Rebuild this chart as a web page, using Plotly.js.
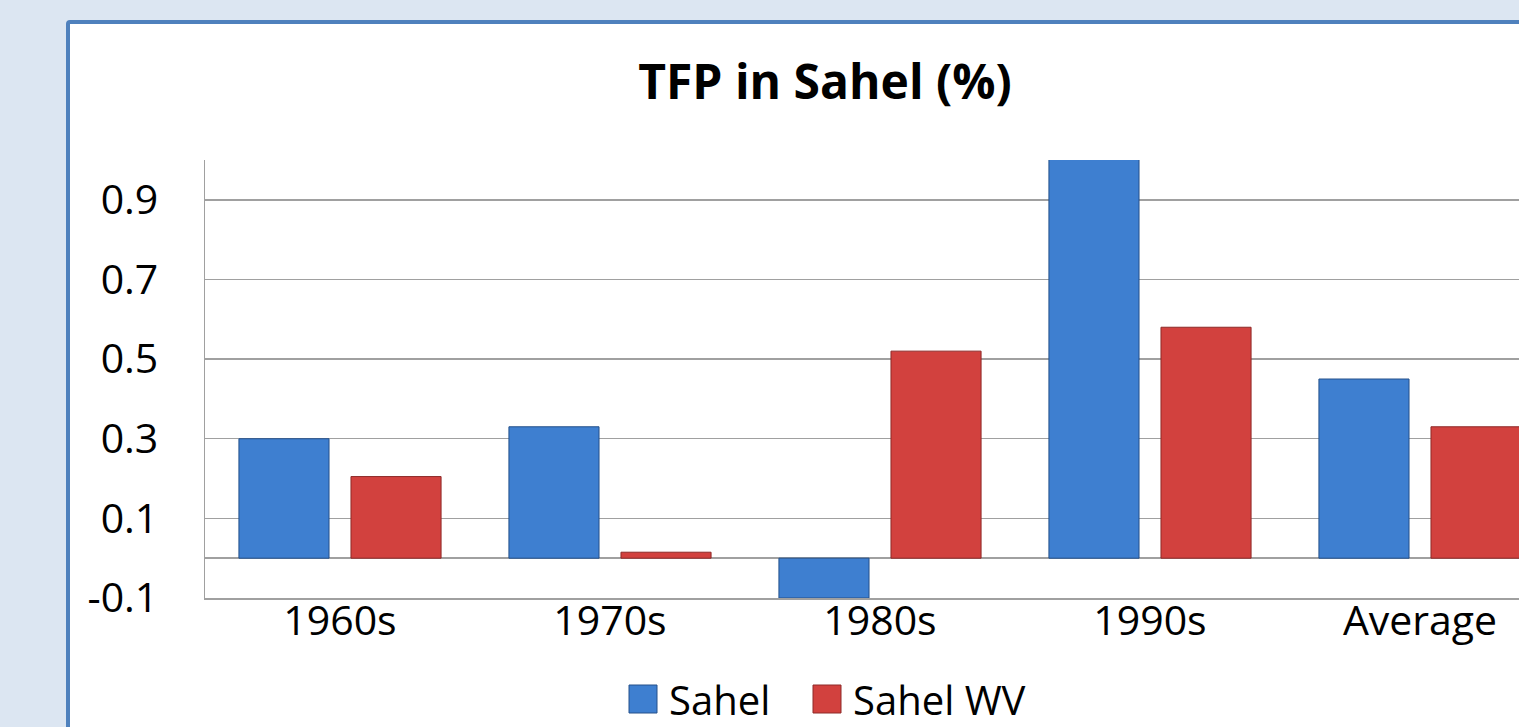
<!DOCTYPE html>
<html>
<head>
<meta charset="utf-8">
<script src="https://cdn.plot.ly/plotly-3.0.1.min.js"></script>
<style>
  html, body { margin: 0; padding: 0; width: 1519px; height: 727px; overflow: hidden; background: #dce6f2; }
  #panel { position: absolute; left: 66px; top: 20px; width: 1600px; height: 800px; background: #ffffff;
           border: 4px solid #4f81bd; border-radius: 4px; box-sizing: border-box; }
  #chart { position: absolute; left: 0; top: 0; width: 1519px; height: 727px; }
</style>
</head>
<body>
<div id="panel"></div>
<div id="chart"></div>
<script>
// ---- data ----
const categories = ["1960s", "1970s", "1980s", "1990s", "Average"];
const seriesNames = ["Sahel", "Sahel WV"];
const sahel = [0.30, 0.33, -0.10, 1.05, 0.45];
const sahelWV = [0.205, 0.015, 0.52, 0.58, 0.33];
const yTickVals = [-0.1, 0.1, 0.3, 0.5, 0.7, 0.9];
const yTickText = ["-0.1", "0.1", "0.3", "0.5", "0.7", "0.9"];
const titleText = "TFP in Sahel (%)";

// ---- layout helpers ----
const W = 1519, H = 727;
const plotL = 205, plotR = 1519, plotT = 160, plotB = 598;
const px = x => (x - plotL) / (plotR - plotL);
const py = y => (plotB - y) / (plotB - plotT);

const font = "Open Sans, Noto Sans, sans-serif";
const colors = ["#3e7fd0", "#d2413e"];
const edges = ["#24508a", "#8e2a28"];
const grid = "#a0a0a0";

const traces = [sahel, sahelWV].map((vals, i) => ({
  type: "bar",
  x: categories,
  y: vals,
  name: seriesNames[i],
  marker: { color: colors[i], line: { color: edges[i], width: 1 } },
  showlegend: false,
  hoverinfo: "x+y+name"
}));

// manual legend (large square swatches like the reference)
const legendItems = [
  { sq: [629, 657], tx: 667 },
  { sq: [813, 841], tx: 851 }
];
const shapes = [];
const annotations = [];
legendItems.forEach((it, i) => {
  shapes.push({
    type: "rect", xref: "paper", yref: "paper",
    x0: px(it.sq[0]), x1: px(it.sq[1]), y0: py(713), y1: py(685),
    fillcolor: colors[i], line: { color: edges[i], width: 1 }
  });
  annotations.push({
    xref: "paper", yref: "paper", x: px(it.tx), y: py(699),
    xanchor: "left", yanchor: "middle", showarrow: false,
    text: seriesNames[i], font: { family: font, size: 40, color: "#000" }
  });
});

const layout = {
  width: W, height: H,
  paper_bgcolor: "rgba(0,0,0,0)",
  plot_bgcolor: "rgba(0,0,0,0)",
  margin: { l: plotL, r: W - plotR, t: plotT, b: H - plotB, autoexpand: false },
  title: {
    text: "<b>" + titleText + "</b>",
    font: { family: font, size: 48, color: "#000" },
    x: 825 / W, xanchor: "center", xref: "container",
    y: 1 - 82 / H, yanchor: "middle", yref: "container"
  },
  barmode: "group",
  bargap: 0.17,
  bargroupgap: 0.196,
  xaxis: {
    type: "category",
    range: [-0.5, -0.5 + (plotR - plotL) / 270],
    showline: true, linecolor: grid, linewidth: 1.5,
    showgrid: false, ticks: "",
    ticklabelstandoff: -14,
    tickfont: { family: font, size: 41, color: "#000" },
    fixedrange: true
  },
  yaxis: {
    range: [-0.1, 1.0],
    tickvals: yTickVals, ticktext: yTickText,
    showline: true, linecolor: grid, linewidth: 1.5,
    showgrid: true, gridcolor: grid, gridwidth: 1.5,
    zeroline: true, zerolinecolor: grid, zerolinewidth: 1.5,
    ticks: "", ticklabelstandoff: 37,
    tickfont: { family: font, size: 41, color: "#000" },
    fixedrange: true
  },
  shapes: shapes,
  annotations: annotations,
  showlegend: false
};

Plotly.newPlot("chart", traces, layout, { displayModeBar: false, staticPlot: true });
</script>
</body>
</html>
